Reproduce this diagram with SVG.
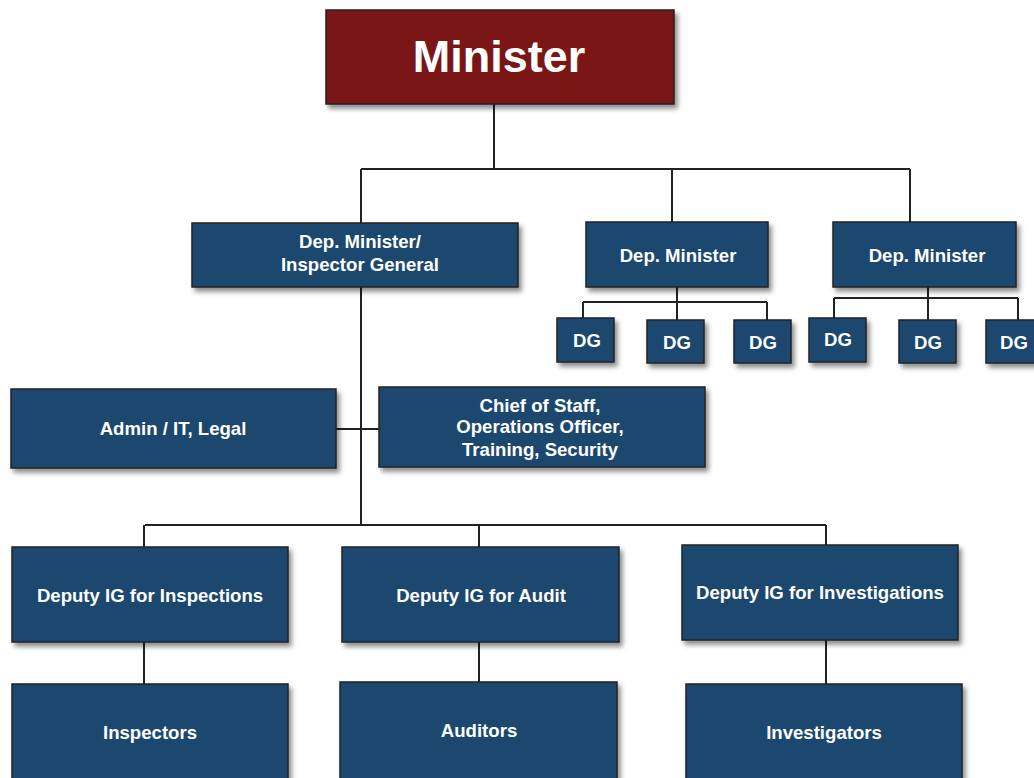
<svg xmlns="http://www.w3.org/2000/svg" width="1034" height="778" viewBox="0 0 1034 778">
<defs>
<filter id="sh" x="-10%" y="-10%" width="130%" height="140%">
<feDropShadow dx="3" dy="4" stdDeviation="2.5" flood-color="#000" flood-opacity="0.45"/>
</filter>
<style>
.b{fill:#1e466e;stroke:#222;stroke-width:1.5;filter:url(#sh)}
.m{fill:#7a1416;stroke:#222;stroke-width:1.5;filter:url(#sh)}
text{font-family:"Liberation Sans",Arial,sans-serif;font-weight:bold;fill:#fff;text-anchor:middle}
.t{font-size:18.6px}
.mt{font-size:45px}
.c{stroke:#222;stroke-width:2;fill:none}
</style>
</defs>
<rect width="1034" height="778" fill="#fff"/>
<g id="connectors">
<path class="c" d="M494 104V169M361 169H910M361 169V223M672 169V222M910 169V222"/>
<path class="c" d="M677 287V320M583 302H767M583 302V318M767 302V328"/>
<path class="c" d="M928 287V320M834 298H1018M834 298V318M1018 298V320"/>
<path class="c" d="M361 287V525M336 429H379M145 525H826M144 525V547M479 525V547M826 525V545"/>
<path class="c" d="M144 642V684M479 642V682M826 640V684"/>
</g>
<g id="minister"><rect class="m" x="326" y="10" width="348" height="94"/><text class="mt" x="499" y="72">Minister</text></g>
<g id="depig"><rect class="b" x="192" y="223" width="326" height="64"/><text class="t" x="360" y="248">Dep. Minister/</text><text class="t" x="360" y="271">Inspector General</text></g>
<g id="dep1"><rect class="b" x="586" y="222" width="182" height="65"/><text class="t" x="678" y="262">Dep. Minister</text></g>
<g id="dep2"><rect class="b" x="833" y="222" width="183" height="65"/><text class="t" x="927" y="262">Dep. Minister</text></g>
<g id="dg1"><rect class="b" x="557" y="318" width="57" height="44"/><text class="t" x="587" y="347">DG</text></g>
<g id="dg2"><rect class="b" x="647" y="320" width="57" height="43"/><text class="t" x="677" y="349">DG</text></g>
<g id="dg3"><rect class="b" x="734" y="320" width="57" height="43"/><text class="t" x="763" y="349">DG</text></g>
<g id="dg4"><rect class="b" x="809" y="318" width="57" height="44"/><text class="t" x="838" y="346">DG</text></g>
<g id="dg5"><rect class="b" x="899" y="320" width="57" height="43"/><text class="t" x="928" y="349">DG</text></g>
<g id="dg6"><rect class="b" x="986" y="320" width="57" height="43"/><text class="t" x="1014" y="349">DG</text></g>
<g id="admin"><rect class="b" x="11" y="389" width="325" height="79"/><text class="t" x="173" y="435">Admin / IT, Legal</text></g>
<g id="chief"><rect class="b" x="379" y="387" width="326" height="80"/><text class="t" x="540" y="412">Chief of Staff,</text><text class="t" x="540" y="433">Operations Officer,</text><text class="t" x="540" y="456">Training, Security</text></g>
<g id="dinsp"><rect class="b" x="12" y="547" width="276" height="95"/><text class="t" x="150" y="602">Deputy IG for Inspections</text></g>
<g id="daudit"><rect class="b" x="342" y="547" width="277" height="95"/><text class="t" x="481" y="602">Deputy IG for Audit</text></g>
<g id="dinv"><rect class="b" x="682" y="545" width="276" height="95"/><text class="t" x="820" y="599">Deputy IG for Investigations</text></g>
<g id="inspectors"><rect class="b" x="12" y="684" width="276" height="110"/><text class="t" x="150" y="739">Inspectors</text></g>
<g id="auditors"><rect class="b" x="340" y="682" width="277" height="110"/><text class="t" x="479" y="737">Auditors</text></g>
<g id="investigators"><rect class="b" x="686" y="684" width="276" height="110"/><text class="t" x="824" y="739">Investigators</text></g>
</svg>
